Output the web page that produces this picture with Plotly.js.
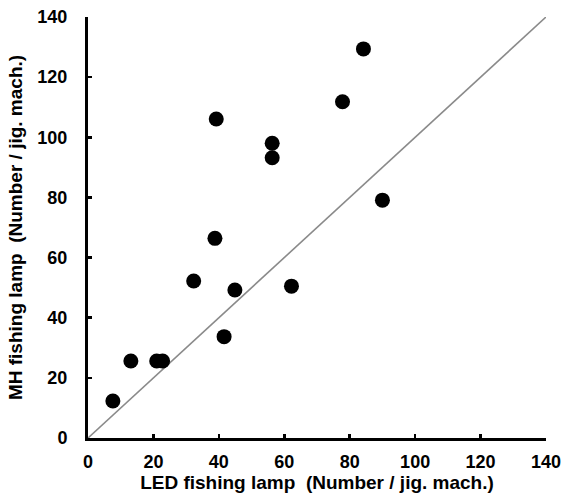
<!DOCTYPE html>
<html>
<head>
<meta charset="utf-8">
<script src="https://cdn.plot.ly/plotly-3.0.1.min.js"></script>
<style>html,body{margin:0;padding:0;background:#fff;}#chart{width:562px;height:503px;}</style>
</head>
<body>
<div id="chart"></div>
<script>
// LED fishing lamp catch (x) vs MH fishing lamp catch (y)
const ledCatch = [7.6, 13.1, 21.0, 22.8, 32.3, 44.9, 41.6, 38.8, 39.2, 56.3, 56.3, 62.2, 77.8, 84.2, 90.0];
const mhCatch  = [12.3, 25.6, 25.6, 25.6, 52.2, 49.2, 33.7, 66.4, 106.1, 98.0, 93.2, 50.5, 111.8, 129.4, 79.1];
const lineX = [0, 140];
const lineY = [0, 140];
const tickVals = [0, 20, 40, 60, 80, 100, 120, 140];
const tickText = ['0', '20', '40', '60', '80', '100', '120', '140'];

const fam = 'Liberation Sans, Arial, sans-serif';

const traces = [
  {x: lineX, y: lineY, mode: 'lines', type: 'scatter',
   line: {color: '#8a8a8a', width: 1.6}, hoverinfo: 'skip', showlegend: false},
  {x: ledCatch, y: mhCatch, mode: 'markers', type: 'scatter',
   marker: {color: '#000', size: 15, line: {width: 0}}, showlegend: false}
];

const axisCommon = {
  range: [0, 140], tickvals: tickVals, ticktext: tickText,
  showgrid: false, zeroline: false, showline: true, linecolor: '#000', linewidth: 3,
  ticks: 'inside', ticklen: 4, tickwidth: 2.5, tickcolor: '#000',
  tickfont: {family: fam, size: 18, color: '#000', weight: 'bold'},
  automargin: false, fixedrange: true
};

const layout = {
  width: 562, height: 503,
  margin: {l: 88, r: 16, t: 17, b: 65},
  paper_bgcolor: '#fff', plot_bgcolor: '#fff',
  showlegend: false,
  xaxis: Object.assign({}, axisCommon, {
    title: {text: 'LED fishing lamp\u00a0\u00a0(Number / jig. mach.)', standoff: 2,
            font: {family: fam, size: 19, color: '#000', weight: 'bold'}},
    ticklabelstandoff: 5
  }),
  yaxis: Object.assign({}, axisCommon, {
    title: {text: 'MH fishing lamp\u00a0\u00a0(Number / jig. mach.)', standoff: 10,
            font: {family: fam, size: 19, color: '#000', weight: 'bold'}},
    ticklabelstandoff: 14
  })
};

Plotly.newPlot('chart', traces, layout, {displayModeBar: false, staticPlot: true});
</script>
</body>
</html>
